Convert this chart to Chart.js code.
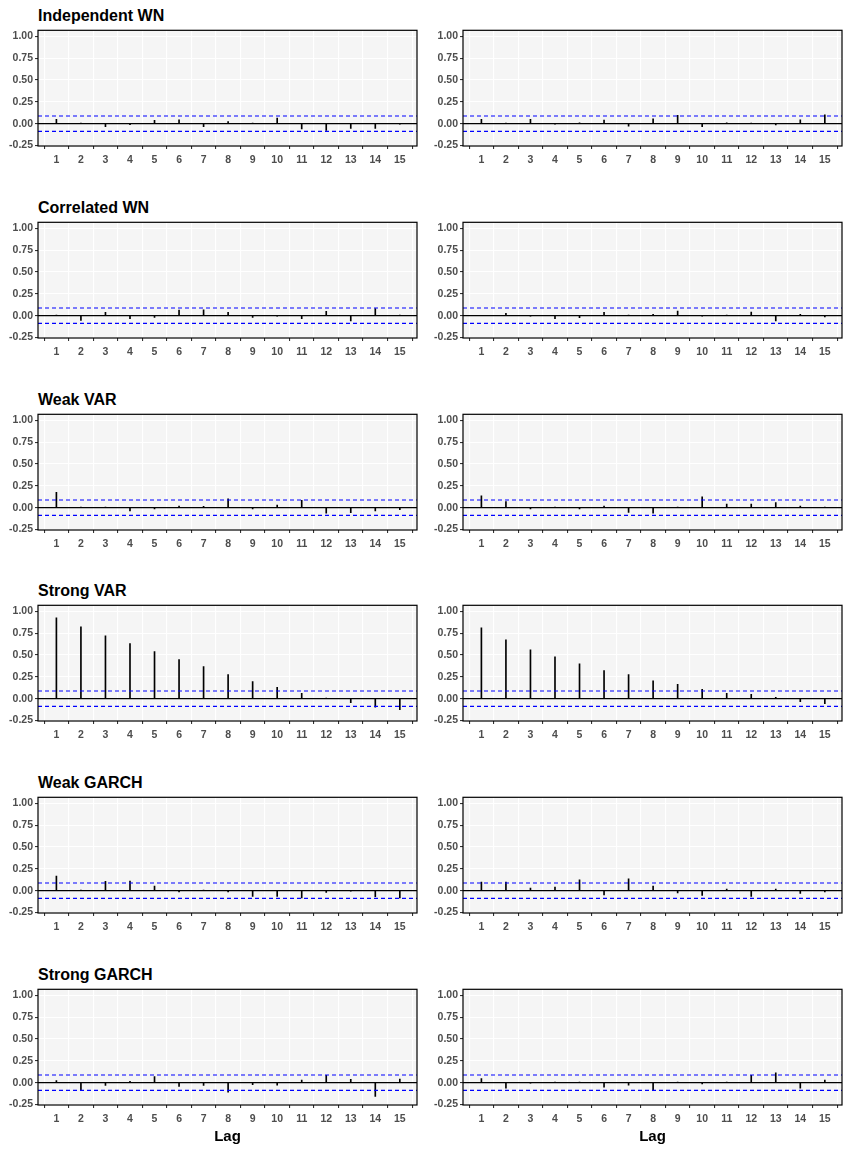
<!DOCTYPE html>
<html>
<head>
<meta charset="utf-8">
<script src="https://cdn.jsdelivr.net/npm/chart.js@4.4.1/dist/chart.umd.min.js"></script>
<style>
  body { margin:0; background:#fff; width:850px; height:1150px; position:relative; overflow:hidden;
         font-family:"Liberation Sans", Arial, sans-serif; }
  .ttl { position:absolute; left:38px; font-weight:bold; font-size:16px; line-height:20px; color:#000; white-space:nowrap; }
  .wrap { position:absolute; width:425px; height:148px; }
  .lag { position:absolute; width:100px; text-align:center; font-weight:bold; font-size:15px; color:#000; }
</style>
</head>
<body>
<script>
// lags and panel names
var lags = [1,2,3,4,5,6,7,8,9,10,11,12,13,14,15];
var panelTitles = ["Independent WN","Correlated WN","Weak VAR","Strong VAR","Weak GARCH","Strong GARCH"];

// acf values, left and right column of each row
var indepWN_a = [0.05,0.005,-0.034,-0.01,0.038,0.045,-0.034,0.023,0.003,0.064,-0.06,-0.076,-0.053,-0.053,-0.005];
var indepWN_b = [0.05,0.002,0.05,-0.003,0.01,0.042,-0.027,0.057,0.095,-0.034,0.01,0.008,-0.015,0.045,0.1];
var corrWN_a = [0.003,-0.053,0.038,-0.034,-0.02,0.064,0.068,0.038,-0.02,-0.005,-0.034,0.05,-0.06,0.08,0.003];
var corrWN_b = [0,0.027,-0.003,-0.034,-0.022,0.038,0.002,0.015,0.053,-0.003,0.003,0.042,-0.06,0.015,-0.015];
var weakVAR_a = [0.177,0.003,0.002,-0.038,-0.015,0.019,0.015,0.1,-0.015,0.03,0.085,-0.062,-0.058,-0.038,-0.023];
var weakVAR_b = [0.135,0.07,-0.015,0.003,-0.015,0.019,-0.054,-0.062,0.003,0.123,0.042,0.042,0.058,0.019,0.003];
var strongVAR_a = [0.924,0.822,0.72,0.629,0.538,0.447,0.367,0.277,0.197,0.129,0.06,0.005,-0.045,-0.098,-0.125];
var strongVAR_b = [0.81,0.674,0.56,0.48,0.398,0.322,0.277,0.205,0.163,0.106,0.06,0.05,0.015,-0.034,-0.057];
var weakGARCH_a = [0.167,0.002,0.106,0.11,0.053,-0.015,0.002,-0.015,-0.064,-0.064,-0.083,-0.019,-0.003,-0.068,-0.083];
var weakGARCH_b = [0.098,0.098,0.03,0.042,0.125,-0.049,0.136,0.053,-0.026,-0.053,0.019,-0.064,0.019,-0.03,-0.015];
var strongGARCH_a = [0.023,-0.092,-0.03,0.015,0.069,-0.042,-0.03,-0.108,-0.023,-0.027,0.03,0.085,0.038,-0.158,0.042];
var strongGARCH_b = [0.046,-0.062,-0.003,0.002,0.002,-0.05,-0.027,-0.088,0.003,-0.015,0.003,0.085,0.112,-0.062,0.03];

var ciBound = 0.088;
var yTicks = [-0.25,-0.125,0,0.125,0.25,0.375,0.5,0.625,0.75,0.875,1.0];

var rows = [
  [indepWN_a, indepWN_b],
  [corrWN_a, corrWN_b],
  [weakVAR_a, weakVAR_b],
  [strongVAR_a, strongVAR_b],
  [weakGARCH_a, weakGARCH_b],
  [strongGARCH_a, strongGARCH_b]
];

// layout
var plotTops = [30, 222, 414, 605, 797, 989];
var xMin = 0.25, xMax = 15.7, yMin = -0.255, yMax = 1.068;

function isMajor(v) { return Math.abs(v * 4 - Math.round(v * 4)) < 1e-6; }

var panelBox = {
  id: 'panelBox',
  beforeDraw: function(chart) {
    var a = chart.chartArea, c = chart.ctx;
    c.save();
    c.fillStyle = '#f5f5f5';
    c.fillRect(a.left, a.top, a.right - a.left, a.bottom - a.top);
    c.restore();
  },
  afterDraw: function(chart) {
    var a = chart.chartArea, c = chart.ctx;
    c.save();
    c.strokeStyle = '#000';
    c.lineWidth = 1.2;
    c.strokeRect(a.left, a.top, a.right - a.left, a.bottom - a.top);
    c.restore();
  }
};

var tickFont = { family: '"Liberation Sans", Arial, sans-serif', size: 10.5, weight: 'bold' };

function hline(y, color, dash) {
  return {
    type: 'line',
    data: [{ x: xMin, y: y }, { x: xMax, y: y }],
    borderColor: color,
    borderWidth: 1.2,
    borderDash: dash,
    pointRadius: 0,
    order: 0
  };
}

function makePanel(row, col, acf) {
  var div = document.createElement('div');
  div.className = 'wrap';
  div.style.left = (col * 425) + 'px';
  div.style.top = (plotTops[row] - 8) + 'px';
  var cv = document.createElement('canvas');
  div.appendChild(cv);
  document.body.appendChild(div);

  new Chart(cv, {
    type: 'bar',
    data: {
      datasets: [
        {
          type: 'bar',
          data: lags.map(function(l, i) { return { x: l, y: acf[i] }; }),
          backgroundColor: '#000',
          borderWidth: 0,
          barThickness: 1,
          order: 2
        },
        hline(0, '#000', []),
        hline(ciBound, '#0000ff', [4, 3]),
        hline(-ciBound, '#0000ff', [4, 3])
      ]
    },
    options: {
      responsive: true,
      maintainAspectRatio: false,
      animation: false,
      layout: { padding: { top: 8, right: 8, left: 0, bottom: 0 } },
      plugins: { legend: { display: false }, tooltip: { enabled: false } },
      scales: {
        x: {
          type: 'linear', min: xMin, max: xMax, offset: false,
          afterBuildTicks: function(s) { s.ticks = lags.map(function(v) { return { value: v }; }); },
          afterFit: function(s) { s.height = 24; },
          ticks: { autoSkip: false, maxRotation: 0, color: '#4d4d4d', font: tickFont, padding: 5,
                   callback: function(v) { return String(v); } },
          grid: { color: '#ffffff', lineWidth: 1.1, tickColor: '#333', tickLength: 3 },
          border: { display: false }
        },
        y: {
          type: 'linear', min: yMin, max: yMax,
          afterBuildTicks: function(s) { s.ticks = yTicks.map(function(v) { return { value: v }; }); },
          afterFit: function(s) { s.width = 38; },
          ticks: { color: '#4d4d4d', font: tickFont, padding: 2,
                   callback: function(v) { return isMajor(v) ? v.toFixed(2) : ''; } },
          grid: {
            color: '#ffffff',
            lineWidth: function(c) { return c.tick && isMajor(c.tick.value) ? 1.1 : 0.5; },
            tickColor: function(c) { return c.tick && isMajor(c.tick.value) ? '#333' : 'rgba(0,0,0,0)'; },
            tickLength: 3
          },
          border: { display: false }
        }
      }
    },
    plugins: [panelBox]
  });
}

rows.forEach(function(pair, r) {
  var t = document.createElement('div');
  t.className = 'ttl';
  t.style.top = (plotTops[r] - 24) + 'px';
  t.textContent = panelTitles[r];
  document.body.appendChild(t);
  makePanel(r, 0, pair[0]);
  makePanel(r, 1, pair[1]);
});

[0, 1].forEach(function(col) {
  var d = document.createElement('div');
  d.className = 'lag';
  d.style.left = (col * 425 + 227.5 - 50) + 'px';
  d.style.top = '1127px';
  d.textContent = 'Lag';
  document.body.appendChild(d);
});
</script>
</body>
</html>
